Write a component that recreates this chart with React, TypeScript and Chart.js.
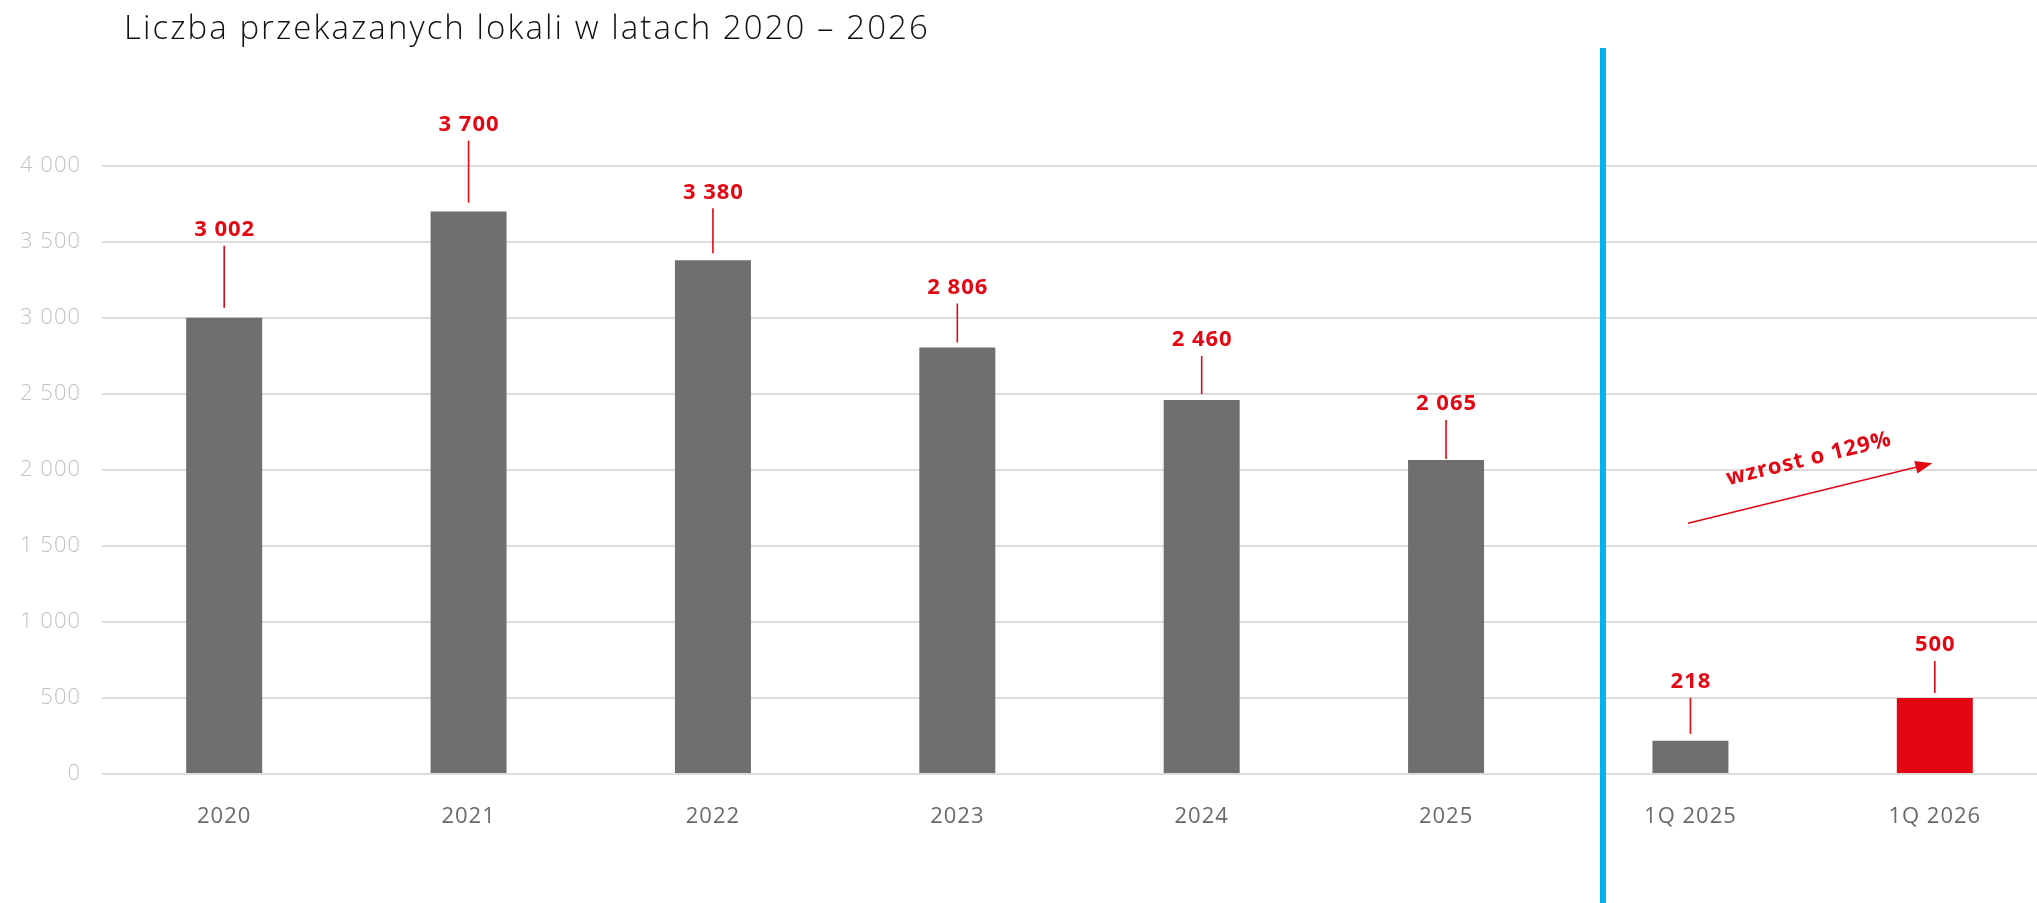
import { useEffect, useRef } from "react";
import { Chart, registerables } from "chart.js";

Chart.register(...registerables);

// Data
const categories = ["2020", "2021", "2022", "2023", "2024", "2025", "1Q 2025", "1Q 2026"];
const deliveries = [3002, 3700, 3380, 2806, 2460, 2065, 218, 500];
const yTickValues = [0, 500, 1000, 1500, 2000, 2500, 3000, 3500, 4000];
const growthText = "wzrost o 129%";
const titleText = "Liczba przekazanych lokali w latach 2020 – 2026";

// Styling
const GREY = "#6f6f6f";
const RED = "#e30613";
const BLUE = "#00b2ef";
const GRID = "#dcdcdc";
const barColors = [GREY, GREY, GREY, GREY, GREY, GREY, GREY, RED];
// how far each value label sits above its bar, and the gap left under its stem
const labelLift = [89, 88, 69, 61, 61, 57, 60, 54];
const stemGap = [10, 9, 7, 5, 6, 1, 7, 5];

const FONT = "'Open Sans', sans-serif";
const TITLE_WIDTH = 804;

const fmt = (v: number) =>
  v >= 1000 ? `${Math.floor(v / 1000)} ${String(v % 1000).padStart(3, "0")}` : String(v);

// slightly wider tracking for axis labels
const trackingPlugin = {
  id: "tracking",
  beforeDraw(chart: any) {
    chart.ctx.letterSpacing = "1px";
  },
};

const titlePlugin = {
  id: "titleText",
  afterDraw(chart: any) {
    const { ctx } = chart;
    ctx.save();
    ctx.fillStyle = "#111111";
    ctx.font = `300 33px ${FONT}`;
    ctx.letterSpacing = "0px";
    const w = ctx.measureText(titleText).width;
    const spacing = Math.max(0, (TITLE_WIDTH - w) / (titleText.length - 1));
    ctx.letterSpacing = `${spacing.toFixed(2)}px`;
    ctx.textAlign = "left";
    ctx.textBaseline = "alphabetic";
    ctx.fillText(titleText, 124, 39);
    ctx.restore();
  },
};

const dividerPlugin = {
  id: "divider",
  afterDraw(chart: any) {
    const { ctx, scales } = chart;
    const x = scales.x.getPixelForValue(5.642);
    ctx.save();
    ctx.strokeStyle = BLUE;
    ctx.lineWidth = 6;
    ctx.beginPath();
    ctx.moveTo(x, 48);
    ctx.lineTo(x, chart.height);
    ctx.stroke();
    ctx.restore();
  },
};

const valueLabelPlugin = {
  id: "valueLabels",
  afterDatasetsDraw(chart: any) {
    const { ctx } = chart;
    const meta = chart.getDatasetMeta(0);
    ctx.save();
    ctx.font = `700 22px ${FONT}`;
    ctx.letterSpacing = "1px";
    ctx.fillStyle = RED;
    ctx.strokeStyle = RED;
    ctx.textAlign = "center";
    ctx.textBaseline = "middle";
    meta.data.forEach((bar: any, i: number) => {
      const top = bar.y;
      const ly = top - labelLift[i];
      ctx.fillText(fmt(deliveries[i]), bar.x + 0.5, ly + 1);
      ctx.lineWidth = 1.6;
      ctx.beginPath();
      ctx.moveTo(bar.x, ly + 17);
      ctx.lineTo(bar.x, top - stemGap[i]);
      ctx.stroke();
    });
    ctx.restore();
  },
};

const growthArrowPlugin = {
  id: "growthArrow",
  afterDraw(chart: any) {
    const { ctx, scales } = chart;
    const x0 = scales.x.getPixelForValue(5.99);
    const y0 = scales.y.getPixelForValue(1650);
    const x1 = scales.x.getPixelForValue(6.99);
    const y1 = scales.y.getPixelForValue(2045);
    const ang = Math.atan2(y1 - y0, x1 - x0);
    const headLen = 17;
    const headHalf = 6.5;
    ctx.save();
    ctx.strokeStyle = RED;
    ctx.fillStyle = RED;
    ctx.lineWidth = 1.6;
    const bx = x1 - headLen * Math.cos(ang);
    const by = y1 - headLen * Math.sin(ang);
    ctx.beginPath();
    ctx.moveTo(x0, y0);
    ctx.lineTo(bx, by);
    ctx.stroke();
    ctx.beginPath();
    ctx.moveTo(x1, y1);
    ctx.lineTo(bx + headHalf * Math.sin(ang), by - headHalf * Math.cos(ang));
    ctx.lineTo(bx - headHalf * Math.sin(ang), by + headHalf * Math.cos(ang));
    ctx.closePath();
    ctx.fill();

    const tx = scales.x.getPixelForValue(6.485);
    const ty = scales.y.getPixelForValue(2072);
    ctx.translate(tx, ty);
    ctx.rotate(ang);
    ctx.font = `700 22px ${FONT}`;
    ctx.letterSpacing = "1px";
    ctx.textAlign = "center";
    ctx.textBaseline = "middle";
    ctx.fillText(growthText, 0, 0);
    ctx.restore();
  },
};

export default function App() {
  const canvasRef = useRef<HTMLCanvasElement | null>(null);

  useEffect(() => {
    if (!canvasRef.current) return;
    const chart = new Chart(canvasRef.current, {
      type: "bar",
      data: {
        labels: categories,
        datasets: [
          {
            data: deliveries,
            backgroundColor: barColors,
            borderWidth: 0,
            barPercentage: 0.311,
            categoryPercentage: 1,
          },
        ],
      },
      options: {
        responsive: false,
        animation: false,
        devicePixelRatio: 1,
        layout: { padding: { top: 166, left: 0, right: 0, bottom: 0 } },
        plugins: {
          legend: { display: false },
          tooltip: { enabled: false },
          title: { display: false },
        },
        scales: {
          x: {
            grid: { display: false, drawTicks: false },
            border: { display: false },
            ticks: {
              color: "#6a6a6a",
              font: { family: FONT, size: 22, weight: "400" as any },
              padding: 30,
              maxRotation: 0,
              autoSkip: false,
            },
            afterFit(scale: any) {
              scale.height = 129;
            },
          },
          y: {
            min: 0,
            max: 4000,
            afterBuildTicks(scale: any) {
              scale.ticks = yTickValues.map((v) => ({ value: v }));
            },
            grid: { color: GRID, lineWidth: 2, drawTicks: false },
            border: { display: false },
            ticks: {
              color: "#c2c2c2",
              font: { family: FONT, size: 22, weight: "300" as any },
              padding: 21,
              callback: (v: any) => fmt(Number(v)),
            },
            afterFit(scale: any) {
              scale.width = 102;
            },
          },
        },
      },
      plugins: [trackingPlugin, titlePlugin, dividerPlugin, valueLabelPlugin, growthArrowPlugin],
    });
    return () => chart.destroy();
  }, []);

  return (
    <div
      style={{
        position: "fixed",
        left: 0,
        top: 0,
        width: 2037,
        height: 903,
        overflow: "hidden",
        background: "#ffffff",
      }}
    >
      <canvas ref={canvasRef} width={2057} height={903} style={{ display: "block" }} />
    </div>
  );
}
